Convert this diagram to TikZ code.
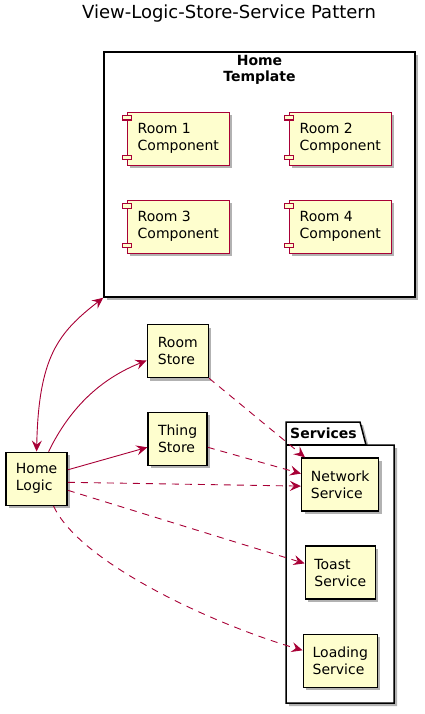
\documentclass[tikz,border=0pt]{standalone}
\usepackage{fontspec}
\setmainfont{DejaVu Sans}
\usetikzlibrary{arrows.meta,calc,positioning,shadows}
\definecolor{umlred}{HTML}{A80036}
\definecolor{umlfill}{HTML}{FEFECE}
\tikzset{%
	umlshadow/.style = {drop shadow={shadow xshift=3pt, shadow yshift=-3pt, opacity=0.3, fill=black}},
	comp/.style      = {draw=umlred, line width=1.2pt, fill=umlfill, umlshadow, rectangle, minimum width=102pt, minimum height=53pt, align=left, font=\fontsize{14}{17}\selectfont},
	port/.style      = {draw=umlred, line width=1.2pt, fill=umlfill},
	box/.style       = {draw, line width=1.5pt, fill=umlfill, umlshadow, rectangle, minimum height=53pt, align=left, font=\fontsize{14}{17}\selectfont},
	frame/.style     = {draw, line width=1.5pt, fill=white, umlshadow},
	label/.style     = {font=\bfseries\fontsize{14}{16}\selectfont, align=center, inner sep=2pt},
	arrow/.style     = {umlred, line width=0.9pt, ->, >={Stealth[length=11pt,width=10pt,inset=4pt]}},
	dep/.style       = {arrow, dash pattern=on 7pt off 6pt},
}
\begin{document}
\begin{tikzpicture}[x=1pt,y=-1pt]
		\useasboundingbox (0,0) rectangle (425,714);
		\node[font=\fontsize{18}{20}\selectfont] (title) at (229,14) {View-Logic-Store-Service Pattern};
		
		% template with its rooms
		\node[frame, minimum width=311pt, minimum height=245pt] (tmpl) at (259.5,174.5) {};
		\node[label, anchor=north] (tmpltitle) at ([yshift=-2pt]tmpl.north) {Home\\Template};
		\node[comp] (r1) at (178.3,138.7) {Room 1\\Component};
		\node[comp] (r2) at (340.3,138.7) {Room 2\\Component};
		\node[comp] (r3) at (178.3,226.7) {Room 3\\Component};
		\node[comp] (r4) at (340.3,226.7) {Room 4\\Component};
		\foreach \c in {r1,r2,r3,r4} {
			\draw[port] ($(\c.north west)+(-4.6,4)$) rectangle ++(9.6,4.5);
			\draw[port] ($(\c.south west)+(-4.6,-10.5)$) rectangle ++(9.6,4.5);
		}
		
		% services package
		\draw[frame] (286,703) -- (286,422) -- (360,422) -- (366,445) -- (394,445) -- (394,703) -- cycle;
		\draw[line width=1.5pt] (286,445) -- (366,445);
		\node[label, anchor=west] (svctitle) at (288,433) {Services};
		\node[box, minimum width=77pt] (ns) at (340.2,484.6) {Network\\Service};
		\node[box, minimum width=70pt] (toast) at (340.3,572.6) {Toast\\Service};
		\node[box, minimum width=74pt] (load) at (340.3,660.8) {Loading\\Service};
		
		% logic and stores
		\node[box, minimum width=61pt] (hl) at (36.6,478.8) {Home\\Logic};
		\node[box, minimum width=61pt] (rs) at (177.8,351) {Room\\Store};
		\node[box, minimum width=59pt] (ts) at (177.6,438.8) {Thing\\Store};
		
		\draw[arrow,<->] (hl.north) .. controls +(2,-95) and +(-45,35) .. (tmpl.south west);
		\draw[arrow] ([xshift=12pt]hl.north) .. controls +(22,-45) and +(-45,18) .. ([yshift=-9.5pt]rs.west);
		\draw[arrow] ([yshift=9pt]hl.east) -- ([yshift=-8.5pt]ts.west);
		
		\draw[dep] (rs.south east) -- ([xshift=4pt]ns.north west);
		\draw[dep] ([yshift=-8.5pt]ts.east) -- ([yshift=11pt]ns.west);
		\draw[dep] ([yshift=-3.5pt]hl.east) -- ([yshift=-1.5pt]ns.west);
		\draw[dep] ([yshift=-11.5pt]hl.east) -- ([yshift=9.2pt]toast.west);
		\draw[dep] ([xshift=17pt]hl.south) .. controls +(25,55) and +(-95,-28) .. ([yshift=10.5pt]load.west);
		\end{tikzpicture}
\end{document}
